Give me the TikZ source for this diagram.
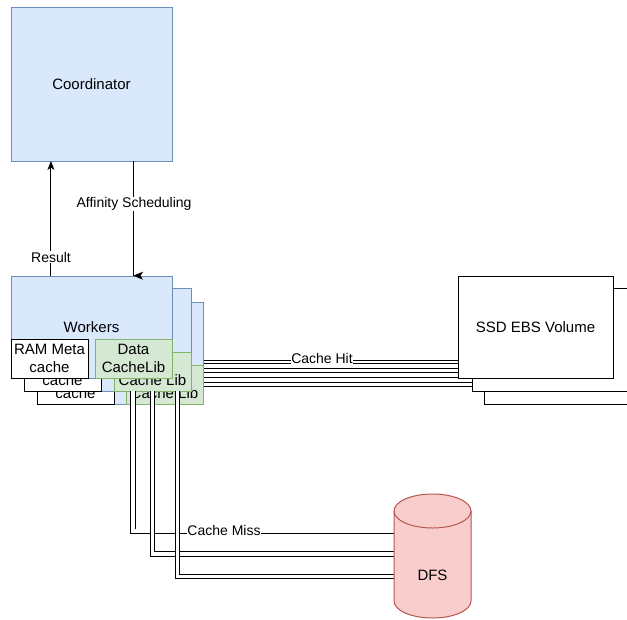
\documentclass[tikz,border=0pt]{standalone}
\usepackage{fontspec}
\setmainfont{Liberation Sans}
\usetikzlibrary{arrows.meta,calc}
\definecolor{bluefill}{HTML}{DAE8FC}
\definecolor{bluedraw}{HTML}{6C8EBF}
\definecolor{greenfill}{HTML}{D5E8D4}
\definecolor{greendraw}{HTML}{82B366}
\definecolor{redfill}{HTML}{F8CECC}
\definecolor{reddraw}{HTML}{B85450}
\begin{document}
\begin{tikzpicture}[x=1pt,y=-1pt,
  box/.style={rectangle,inner sep=0pt,outer sep=0pt,line width=1pt,
    font=\fontsize{15}{18}\selectfont,align=center},
  bluebox/.style={box,fill=bluefill,draw=bluedraw},
  greenbox/.style={box,fill=greenfill,draw=greendraw,minimum width=77pt,minimum height=39pt},
  rambox/.style={box,fill=white,draw=black,minimum width=77pt,minimum height=39pt},
  ssdbox/.style={box,fill=white,draw=black,minimum width=155pt,minimum height=102pt},
  lbl/.style={fill=white,inner sep=0.5pt,font=\fontsize{14}{16}\selectfont},
  arrow/.style={draw=black,line width=1pt,-{Stealth[length=9pt,width=7pt,inset=2.5pt]}},
  link/.style={draw=black,line width=0.9pt,double=white,double distance=3.8pt}]
\useasboundingbox (0,0) rectangle (627,619);
\clip (0,0) rectangle (627,619);

% anchor boxes for the connectors (drawn below the worker stack)
\node[box,minimum width=77pt,minimum height=39pt] (g1) at (133.5,358.5) {};
\node[box,minimum width=155pt,minimum height=102pt] (s1) at (535.5,327) {};
\node[box,minimum width=155pt,minimum height=103pt] (s2) at (549.5,339.5) {};
\node[box,minimum width=77pt,minimum height=124pt] (dfs) at (432.5,556) {};

% cache hit links, running behind the worker stack
\draw[link] (g1.east |- 0,358.3) -- (s1.west |- 0,358.3);
\draw[link] (g1.east |- 0,366.2) -- (s1.west |- 0,366.2);
\draw[link] (g1.east |- 0,375) -- (s1.west |- 0,375);
\draw[link] (g1.east |- 0,384.5) -- (s2.west |- 0,384.5);
\node[lbl] (hit) at (322,358.5) {Cache Hit};

% SSD volume stack
\node[ssdbox] (s3) at (561.5,353) {};
\node[ssdbox,minimum height=103pt] at (s2) {};
\node[ssdbox] at (s1) {SSD EBS Volume};

% coordinator
\node[bluebox,minimum width=161pt,minimum height=154pt] (coord) at (91.5,84) {Coordinator};

% worker stack, back to front
\node[bluebox,minimum width=166pt,minimum height=102pt] (w3) at (120,353) {};
\node[rambox] (r3) at (75.5,384.5) {RAM Meta\\cache};
\node[greenbox] (g3) at (164.5,384.5) {Data\\Cache Lib};
\node[bluebox,minimum width=167pt,minimum height=103pt] (w2) at (107.5,339.5) {};
\node[rambox] (r2) at (62.5,371.5) {RAM Meta\\cache};
\node[greenbox] (g2) at (152.5,371.5) {Data\\Cache Lib};
\node[bluebox,minimum width=161pt,minimum height=102pt] (w1) at (91.5,327) {Workers};
\node[rambox] (r1) at (49.5,358.5) {RAM Meta\\cache};
\node[greenbox] at (g1) {Data\\CacheLib};

% scheduling and results
\draw[arrow] ($(w1.north west)!0.248!(w1.north east)$) -- ($(coord.south west)!0.248!(coord.south east)$);
\coordinate (affin) at ($(w1.north west)!0.758!(w1.north east)$);
\draw[line width=1pt] ($(coord.south west)!0.758!(coord.south east)$) -- (affin);
\fill ($(affin)+(0,-0.3)$) -- ++(10,-4) -- ++(-2.5,4) -- ++(2.5,4) -- cycle;
\node[lbl] (res) at (51,257) {Result};
\node[lbl] (aff) at (134,204) {Affinity Scheduling};

% cache miss links down to the DFS
\draw[link] (g2.south -| 133.2,0) |- (dfs.west |- 0,531.3);
\draw[link] (g2.south -| 152.5,0) |- (dfs.west |- 0,554.2);
\draw[link] (g2.south -| 177.5,0) |- (dfs.west |- 0,576.5);
\node[lbl] (miss) at (224,530.5) {Cache Miss};

% DFS cylinder
\filldraw[fill=redfill,draw=reddraw,line width=1pt]
  (394,511) -- (394,601) arc[start angle=180,end angle=0,x radius=38.5,y radius=17]
  -- (471,511) arc[start angle=0,end angle=-180,x radius=38.5,y radius=17] -- cycle;
\draw[draw=reddraw,line width=1pt] (394,511) arc[start angle=180,end angle=0,x radius=38.5,y radius=17];
\node[font=\fontsize{15}{18}\selectfont] at ($(dfs.center)+(0,19)$) {DFS};
\end{tikzpicture}
\end{document}
